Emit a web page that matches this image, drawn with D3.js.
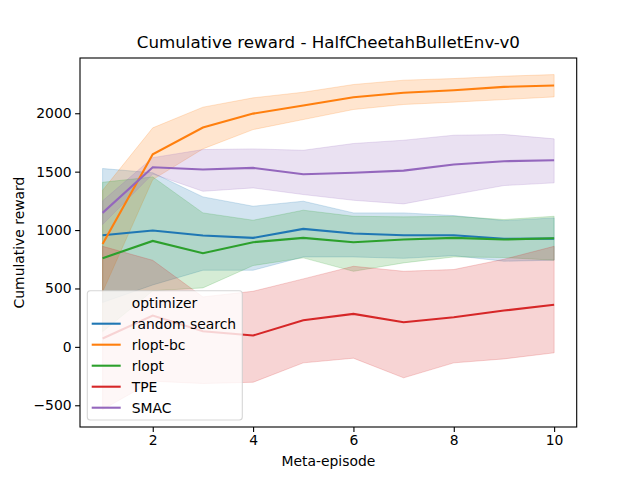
<!DOCTYPE html>
<html>
<head>
<meta charset="utf-8">
<script src="https://cdn.jsdelivr.net/npm/d3@7"></script>
<style>
  body { margin: 0; background: white; }
  svg text { font-family: "DejaVu Sans", sans-serif; fill: #000; }
</style>
</head>
<body>
<svg id="chart" width="640" height="480"></svg>
<script>
// ===== Data =====
const episodes = [1, 2, 3, 4, 5, 6, 7, 8, 9, 10];
const optimizers = ["random search", "rlopt-bc", "rlopt", "TPE", "SMAC"];
const colors = ["#1f77b4", "#ff7f0e", "#2ca02c", "#d62728", "#9467bd"];

const randomMean = [956, 996, 953, 933, 1010, 970, 956, 956, 925, 927];
const randomLo   = [380, 530, 656, 656, 770, 770, 758, 781, 733, 742];
const randomHi   = [1527, 1490, 1284, 1204, 1247, 1147, 1147, 1124, 1081, 1104];

const bcMean = [880, 1649, 1878, 1997, 2066, 2137, 2175, 2197, 2226, 2237];
const bcLo   = [470, 1432, 1695, 1860, 1946, 2032, 2075, 2095, 2117, 2140];
const bcHi   = [1340, 1875, 2052, 2132, 2180, 2246, 2283, 2297, 2317, 2331];

const rloptMean = [759, 907, 802, 896, 933, 896, 919, 933, 919, 930];
const rloptLo   = [130, 480, 505, 696, 762, 647, 719, 770, 765, 742];
const rloptHi   = [1409, 1455, 1147, 1084, 1170, 1118, 1113, 1118, 1090, 1118];

const tpeMean = [71, 268, 134, 97, 228, 282, 211, 253, 311, 360];
const tpeLo   = [-537, -294, -314, -303, -137, -97, -265, -137, -103, -51];
const tpeHi   = [861, 741, 428, 476, 582, 690, 647, 662, 750, 861];

const smacMean = [1147, 1538, 1518, 1532, 1478, 1490, 1509, 1561, 1589, 1598];
const smacLo   = [1047, 1480, 1332, 1361, 1304, 1255, 1224, 1304, 1381, 1404];
const smacHi   = [1250, 1620, 1689, 1695, 1683, 1741, 1769, 1812, 1818, 1781];

const xTicks = [2, 4, 6, 8, 10];
const yTicks = [-500, 0, 500, 1000, 1500, 2000];

// ===== Build series =====
const means = [randomMean, bcMean, rloptMean, tpeMean, smacMean];
const los = [randomLo, bcLo, rloptLo, tpeLo, smacLo];
const his = [randomHi, bcHi, rloptHi, tpeHi, smacHi];

const series = optimizers.map((name, i) => ({
  name: name,
  color: colors[i],
  points: episodes.map((e, j) => ({ x: e, y: means[i][j], lo: los[i][j], hi: his[i][j] }))
}));

// ===== Layout =====
const svg = d3.select("#chart");
const plotLeft = 80, plotRight = 576.7, plotTop = 58, plotBottom = 427;

const x = d3.scaleLinear().domain([0.55, 10.45]).range([plotLeft, plotRight]);
const y = d3.scaleLinear().domain([-686, 2473]).range([plotBottom, plotTop]);

const area = d3.area()
  .x(d => x(d.x))
  .y0(d => y(d.lo))
  .y1(d => y(d.hi));

const line = d3.line()
  .x(d => x(d.x))
  .y(d => y(d.y));

// bands first, lines on top (like matplotlib zorder)
svg.append("g")
  .selectAll("path")
  .data(series)
  .enter()
  .append("path")
  .attr("d", d => area(d.points))
  .attr("fill", d => d.color)
  .attr("fill-opacity", 0.2)
  .attr("stroke", d => d.color)
  .attr("stroke-opacity", 0.2)
  .attr("stroke-width", 1);

svg.append("g")
  .selectAll("path")
  .data(series)
  .enter()
  .append("path")
  .attr("d", d => line(d.points))
  .attr("fill", "none")
  .attr("stroke", d => d.color)
  .attr("stroke-width", 2.1);

// ===== Axes =====
const fmt = d => (d < 0 ? "\u2212" + Math.abs(d) : String(d));

const xAxis = svg.append("g")
  .attr("transform", `translate(0,${plotBottom})`)
  .call(d3.axisBottom(x).tickValues(xTicks).tickSize(4.9).tickSizeOuter(0).tickPadding(3.5));

const yAxis = svg.append("g")
  .attr("transform", `translate(${plotLeft},0)`)
  .call(d3.axisLeft(y).tickValues(yTicks).tickFormat(fmt).tickSize(4.9).tickSizeOuter(0).tickPadding(3.5));

[xAxis, yAxis].forEach(g => {
  g.select(".domain").remove();
  g.selectAll("line").attr("stroke", "#000").attr("stroke-width", 1.1);
  g.selectAll("text").style("font-size", "13.9px").style("font-family", "DejaVu Sans");
});

// spines
svg.append("rect")
  .attr("x", plotLeft)
  .attr("y", plotTop)
  .attr("width", plotRight - plotLeft)
  .attr("height", plotBottom - plotTop)
  .attr("fill", "none")
  .attr("stroke", "#000")
  .attr("stroke-width", 1.1);

// ===== Labels =====
svg.append("text")
  .attr("x", (plotLeft + plotRight) / 2)
  .attr("y", 48)
  .attr("text-anchor", "middle")
  .style("font-size", "16.7px")
  .text("Cumulative reward - HalfCheetahBulletEnv-v0");

svg.append("text")
  .attr("x", (plotLeft + plotRight) / 2)
  .attr("y", 466)
  .attr("text-anchor", "middle")
  .style("font-size", "13.9px")
  .text("Meta-episode");

svg.append("text")
  .attr("transform", `translate(24,${(plotTop + plotBottom) / 2}) rotate(-90)`)
  .attr("text-anchor", "middle")
  .style("font-size", "13.9px")
  .text("Cumulative reward");

// ===== Legend =====
const legend = svg.append("g").attr("transform", "translate(87.3,290.7)");

legend.append("rect")
  .attr("width", 155)
  .attr("height", 129.3)
  .attr("rx", 3)
  .attr("fill", "white")
  .attr("fill-opacity", 0.8)
  .attr("stroke", "#cccccc")
  .attr("stroke-opacity", 0.8)
  .attr("stroke-width", 1.1);

const rowY = i => 12 + i * 21;

legend.append("text")
  .attr("x", 44.4)
  .attr("y", rowY(0))
  .attr("dy", "0.35em")
  .style("font-size", "13.9px")
  .text("optimizer");

const rows = legend.selectAll("g.row")
  .data(series)
  .enter()
  .append("g")
  .attr("class", "row")
  .attr("transform", (d, i) => `translate(0,${rowY(i + 1)})`);

rows.append("line")
  .attr("x1", 4.4)
  .attr("x2", 33.4)
  .attr("stroke", d => d.color)
  .attr("stroke-width", 2.1);

rows.append("text")
  .attr("x", 44.4)
  .attr("dy", "0.35em")
  .style("font-size", "13.9px")
  .text(d => d.name);
</script>
</body>
</html>
